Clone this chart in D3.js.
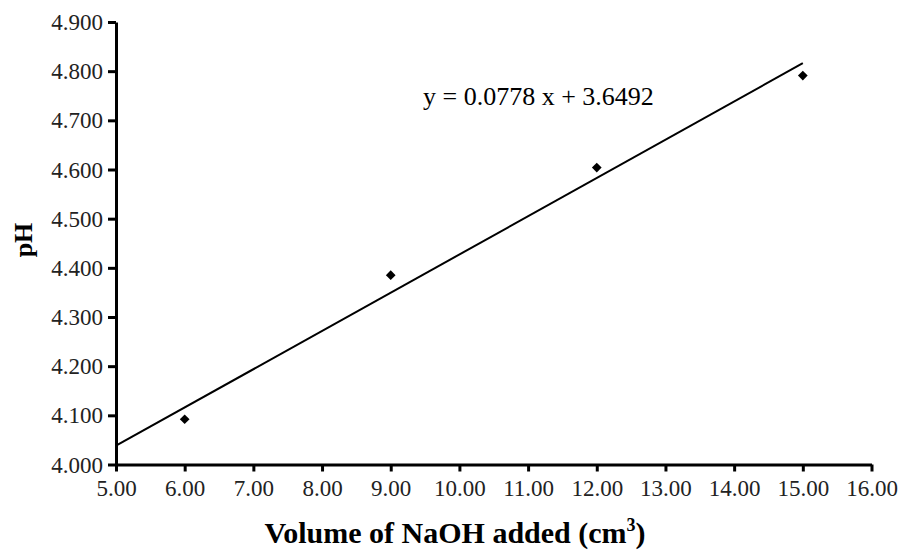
<!DOCTYPE html>
<html>
<head>
<meta charset="utf-8">
<script src="https://cdn.jsdelivr.net/npm/d3@7"></script>
<style>
  body { margin: 0; background: #fff; }
  text { font-family: "Liberation Serif", "Times New Roman", serif; fill: #000; }
</style>
</head>
<body>
<svg id="chart" width="899" height="550"></svg>
<script>
// data
var volume = [6, 9, 12, 15];
var ph = [4.092, 4.385, 4.604, 4.791];
var slope = 0.0778, intercept = 3.6492;
var xTicks = [5, 6, 7, 8, 9, 10, 11, 12, 13, 14, 15, 16];
var yTicks = [4.0, 4.1, 4.2, 4.3, 4.4, 4.5, 4.6, 4.7, 4.8, 4.9];

var svg = d3.select('#chart');
var x = d3.scaleLinear().domain([5, 16]).range([116, 871.5]);
var y = d3.scaleLinear().domain([4.0, 4.9]).range([464.5, 22]);

// trendline
var lineX = [5, 15];
svg.append('line')
	.attr('x1', x(lineX[0])).attr('y1', y(slope * lineX[0] + intercept))
	.attr('x2', x(lineX[1])).attr('y2', y(slope * lineX[1] + intercept))
	.style('stroke', '#000').style('stroke-width', 2);

// axes
var xAxis = svg.append('g').attr('transform', 'translate(0,464.5)')
	.call(d3.axisBottom(x).tickValues(xTicks).tickFormat(d3.format('.2f')).tickSize(7).tickSizeOuter(0));
var yAxis = svg.append('g').attr('transform', 'translate(116,0)')
	.call(d3.axisLeft(y).tickValues(yTicks).tickFormat(d3.format('.3f')).tickSize(8).tickSizeOuter(0));

[xAxis, yAxis].forEach(function (a) {
	a.select('.domain').style('stroke', '#000').style('stroke-width', 3);
	a.selectAll('.tick line').style('stroke', '#000').style('stroke-width', 3);
	a.selectAll('.tick text').style('font-family', '"Liberation Serif", serif').style('font-size', '23px').style('fill', '#222');
});
xAxis.selectAll('.tick text').attr('dy', null).attr('y', 31);
yAxis.selectAll('.tick text').attr('x', -13).attr('dy', '0.33em');

// markers
svg.selectAll('path.pt').data(volume).enter().append('path')
	.attr('class', 'pt')
	.attr('d', d3.symbol().type(d3.symbolDiamond2).size(60))
	.attr('transform', function (d, i) { return 'translate(' + x(d) + ',' + y(ph[i]) + ')'; })
	.style('fill', '#000');

// equation
svg.append('text').attr('x', 423).attr('y', 105)
	.style('font-size', '26px')
	.text('y = 0.0778 x + 3.6492');

// axis titles
var xt = svg.append('text').attr('x', 455).attr('y', 543)
	.attr('text-anchor', 'middle')
	.style('font-size', '30px').style('font-weight', 'bold');
xt.append('tspan').text('Volume of NaOH added (cm');
xt.append('tspan').attr('dy', -12).style('font-size', '18px').text('3');
xt.append('tspan').attr('dy', 12).text(')');

svg.append('text')
	.attr('transform', 'translate(32,240) rotate(-90)')
	.attr('text-anchor', 'middle')
	.style('font-size', '26px').style('font-weight', 'bold')
	.text('pH');
</script>
</body>
</html>
